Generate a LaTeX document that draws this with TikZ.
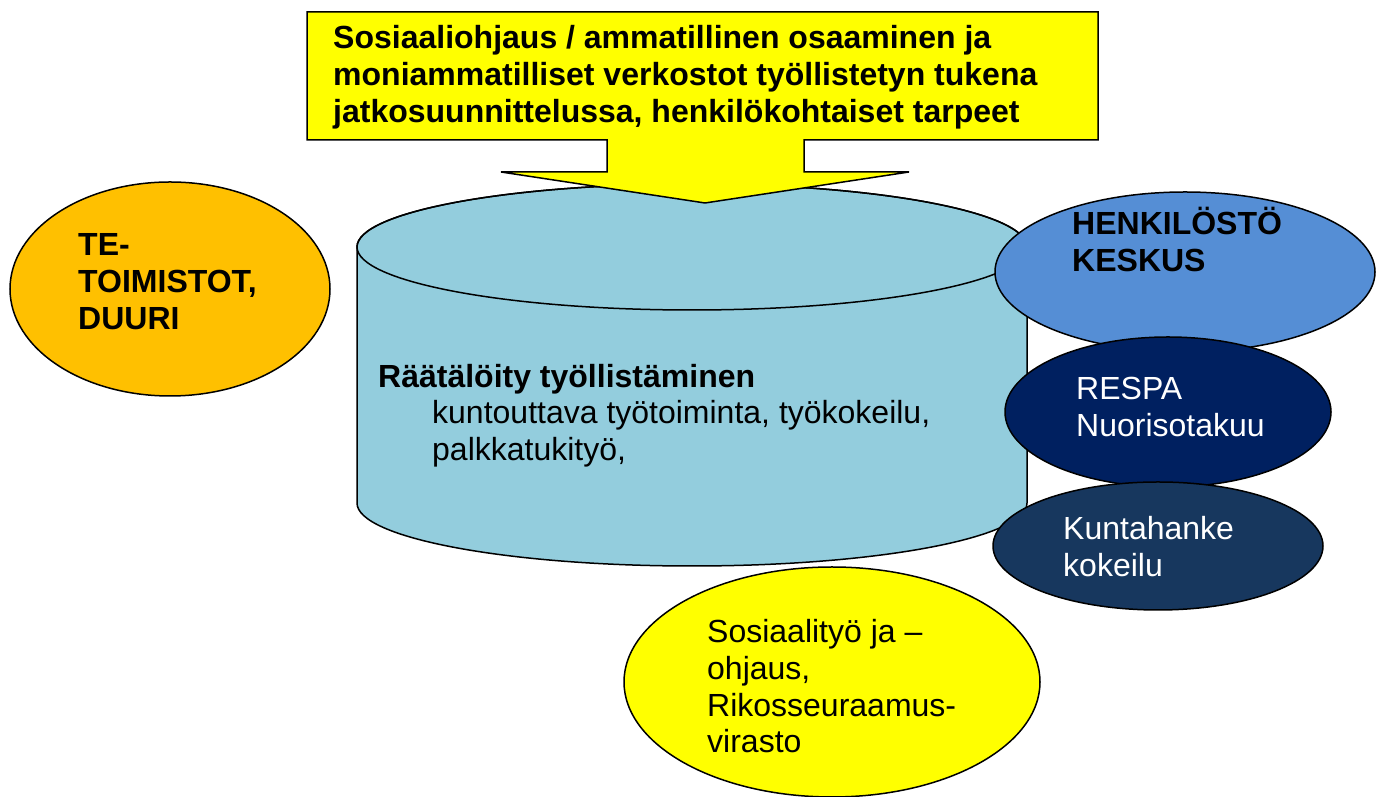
\documentclass[tikz,border=0pt]{standalone}
\usepackage{fontspec}
\setmainfont{Liberation Sans}
\usetikzlibrary{shapes.geometric}
\definecolor{callout}{HTML}{FFFF00}
\definecolor{cylfill}{HTML}{93CDDD}
\definecolor{tefill}{HTML}{FFC000}
\definecolor{henkfill}{HTML}{558ED5}
\definecolor{respafill}{HTML}{002060}
\definecolor{kuntafill}{HTML}{17375E}
\tikzset{
  outline/.style={draw=black, line width=1.5pt},
  blob/.style={outline, ellipse, inner sep=0pt, outer sep=0pt},
  lbl/.style={anchor=base west, inner sep=0pt, align=left, font=\fontsize{32}{37}\selectfont},
  blbl/.style={lbl, font=\fontsize{32}{37}\selectfont\bfseries},
}
\begin{document}
\begin{tikzpicture}[x=1pt,y=1pt]
\useasboundingbox (0,0) rectangle (1382,797);
% cylinder
\path[outline, fill=cylfill] (357,550) -- (357,294)
  arc[start angle=180, end angle=360, x radius=335, y radius=63]
  -- (1027,550)
  arc[start angle=0, end angle=180, x radius=335, y radius=63] -- cycle;
\draw[outline] (692,550) ellipse[x radius=335, y radius=63];
% callout arrow
\path[outline, fill=callout] (307,785) -- (1098,785) -- (1098,657) -- (804,657)
  -- (804,625) -- (909,625) -- (705,594) -- (501,625) -- (607,625)
  -- (607,657) -- (307,657) -- cycle;
% ellipses
\node[blob, fill=tefill, minimum width=320pt, minimum height=214pt] (te) at (170,508) {};
\node[blob, fill=henkfill, minimum width=380pt, minimum height=160pt] (henk) at (1185,525) {};
\node[blob, fill=respafill, minimum width=326pt, minimum height=150pt] (respa) at (1168,385) {};
\node[blob, fill=kuntafill, minimum width=330pt, minimum height=128pt] (kunta) at (1158,251) {};
\node[blob, fill=callout, minimum width=416pt, minimum height=230pt] (sos) at (832,115) {};
% texts
\node[blbl] (t1) at (333,748) {Sosiaaliohjaus / ammatillinen osaaminen ja};
\node[blbl] (t2) at (333,711) {moniammatilliset verkostot työllistetyn tukena};
\node[blbl] (t3) at (333,674) {jatkosuunnittelussa, henkilökohtaiset tarpeet};
\node[blbl] (te1) at (78,541) {TE-};
\node[blbl] (te2) at (78,504) {TOIMISTOT,};
\node[blbl] (te3) at (78,467) {DUURI};
\node[blbl] (h1) at (1072,562) {HENKILÖSTÖ};
\node[blbl] (h2) at (1072,525) {KESKUS};
\node[lbl, text=white] (r1) at (1076,397) {RESPA};
\node[lbl, text=white] (r2) at (1076,360) {Nuorisotakuu};
\node[lbl, text=white] (k1) at (1063,257) {Kuntahanke};
\node[lbl, text=white] (k2) at (1063,220) {kokeilu};
\node[blbl] (c1) at (378,409) {Räätälöity työllistäminen};
\node[lbl] (c2) at (432,373) {kuntouttava työtoiminta, työkokeilu,};
\node[lbl] (c3) at (432,336) {palkkatukityö,};
\node[lbl] (s1) at (707,154) {Sosiaalityö ja –};
\node[lbl] (s2) at (707,117) {ohjaus,};
\node[lbl] (s3) at (707,80) {Rikosseuraamus-};
\node[lbl] (s4) at (707,44) {virasto};
\end{tikzpicture}
\end{document}
